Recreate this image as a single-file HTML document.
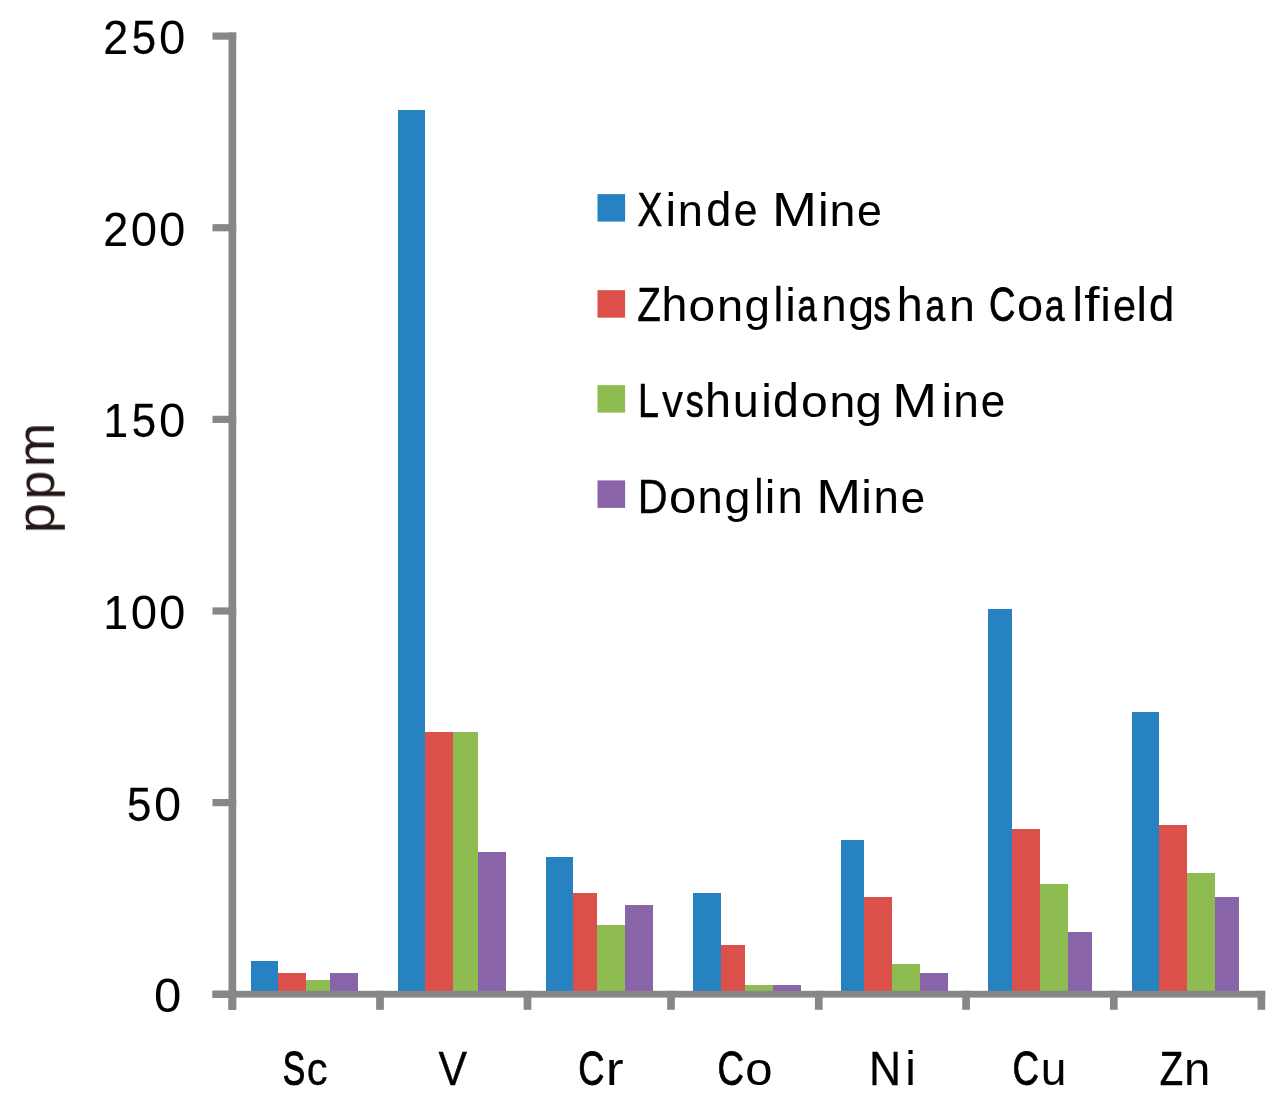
<!DOCTYPE html>
<html><head><meta charset="utf-8"><style>
html,body{margin:0;padding:0;background:#fff;}
svg{display:block;}
text{font-family:"Liberation Sans",sans-serif;will-change:transform;}
</style></head><body>
<svg width="1283" height="1109" viewBox="0 0 1283 1109">
<rect x="0" y="0" width="1283" height="1109" fill="#fff"/>
<rect x="250.6" y="960.6" width="27.7" height="33.4" fill="#2682c0" shape-rendering="crispEdges"/>
<rect x="278.3" y="972.5" width="27.6" height="21.5" fill="#dc504c" shape-rendering="crispEdges"/>
<rect x="305.9" y="980.2" width="24.1" height="13.8" fill="#8ebc50" shape-rendering="crispEdges"/>
<rect x="330" y="972.5" width="27.8" height="21.5" fill="#8a64a8" shape-rendering="crispEdges"/>
<rect x="398.1" y="110.2" width="27.3" height="883.8" fill="#2682c0" shape-rendering="crispEdges"/>
<rect x="425.4" y="732.4" width="27.9" height="261.6" fill="#dc504c" shape-rendering="crispEdges"/>
<rect x="453.3" y="732.4" width="24.6" height="261.6" fill="#8ebc50" shape-rendering="crispEdges"/>
<rect x="477.9" y="852.3" width="27.7" height="141.7" fill="#8a64a8" shape-rendering="crispEdges"/>
<rect x="545.6" y="856.6" width="27.4" height="137.4" fill="#2682c0" shape-rendering="crispEdges"/>
<rect x="573" y="892.7" width="23.8" height="101.3" fill="#dc504c" shape-rendering="crispEdges"/>
<rect x="596.8" y="924.9" width="28.5" height="69.1" fill="#8ebc50" shape-rendering="crispEdges"/>
<rect x="625.3" y="904.5" width="27.5" height="89.5" fill="#8a64a8" shape-rendering="crispEdges"/>
<rect x="693.1" y="892.5" width="27.9" height="101.5" fill="#2682c0" shape-rendering="crispEdges"/>
<rect x="721" y="944.8" width="23.7" height="49.2" fill="#dc504c" shape-rendering="crispEdges"/>
<rect x="744.7" y="984.7" width="28.3" height="9.3" fill="#8ebc50" shape-rendering="crispEdges"/>
<rect x="773" y="984.5" width="27.5" height="9.5" fill="#8a64a8" shape-rendering="crispEdges"/>
<rect x="840.8" y="840.4" width="23.6" height="153.6" fill="#2682c0" shape-rendering="crispEdges"/>
<rect x="864.4" y="896.7" width="27.8" height="97.3" fill="#dc504c" shape-rendering="crispEdges"/>
<rect x="892.2" y="964.3" width="27.9" height="29.7" fill="#8ebc50" shape-rendering="crispEdges"/>
<rect x="920.1" y="972.6" width="27.9" height="21.4" fill="#8a64a8" shape-rendering="crispEdges"/>
<rect x="988.1" y="608.6" width="23.7" height="385.4" fill="#2682c0" shape-rendering="crispEdges"/>
<rect x="1011.8" y="828.7" width="28.3" height="165.3" fill="#dc504c" shape-rendering="crispEdges"/>
<rect x="1040.1" y="884.2" width="27.8" height="109.8" fill="#8ebc50" shape-rendering="crispEdges"/>
<rect x="1067.9" y="932.3" width="23.7" height="61.7" fill="#8a64a8" shape-rendering="crispEdges"/>
<rect x="1132" y="712.2" width="27.4" height="281.8" fill="#2682c0" shape-rendering="crispEdges"/>
<rect x="1159.4" y="824.6" width="27.9" height="169.4" fill="#dc504c" shape-rendering="crispEdges"/>
<rect x="1187.3" y="872.5" width="28.1" height="121.5" fill="#8ebc50" shape-rendering="crispEdges"/>
<rect x="1215.4" y="896.9" width="23.8" height="97.1" fill="#8a64a8" shape-rendering="crispEdges"/>
<rect x="228.5" y="32.5" width="7.7" height="977.3" fill="#878787"/>
<rect x="212.5" y="32.5" width="23.7" height="7.2" fill="#878787"/>
<rect x="212.5" y="224.13" width="23.7" height="7.2" fill="#878787"/>
<rect x="212.5" y="415.76" width="23.7" height="7.2" fill="#878787"/>
<rect x="212.5" y="607.39" width="23.7" height="7.2" fill="#878787"/>
<rect x="212.5" y="799.02" width="23.7" height="7.2" fill="#878787"/>
<rect x="212.5" y="990.65" width="23.7" height="7.2" fill="#878787"/>
<rect x="212.5" y="990.8" width="1052.7" height="6.8" fill="#878787"/>
<rect x="228.5" y="990.8" width="7.7" height="19" fill="#878787"/>
<rect x="376.15" y="990.8" width="7.7" height="19" fill="#878787"/>
<rect x="523.65" y="990.8" width="7.7" height="19" fill="#878787"/>
<rect x="667.15" y="990.8" width="7.7" height="19" fill="#878787"/>
<rect x="814.95" y="990.8" width="7.7" height="19" fill="#878787"/>
<rect x="962.25" y="990.8" width="7.7" height="19" fill="#878787"/>
<rect x="1109.95" y="990.8" width="7.7" height="19" fill="#878787"/>
<rect x="1257.5" y="990.8" width="7.7" height="19" fill="#878787"/>
<rect x="597.5" y="194.1" width="27.6" height="27.5" fill="#2682c0"/>
<rect x="597.5" y="290.2" width="27.6" height="27.5" fill="#dc504c"/>
<rect x="597.5" y="385.1" width="27.6" height="27.5" fill="#8ebc50"/>
<rect x="597.5" y="480.4" width="27.6" height="27.5" fill="#8a64a8"/>
<text transform="matrix(0.7809 0 0 1 637.6 226)" font-size="47.5" stroke="#000" stroke-width="0.67" vector-effect="non-scaling-stroke">X</text>
<text transform="matrix(1.0299 0 0 1 665.5 226)" font-size="46.4">i</text>
<text transform="matrix(0.9973 0 0 1 677.7 226)" font-size="45.3">n</text>
<text transform="matrix(0.9309 0 0 1 706.23 226)" font-size="48" stroke="#000" stroke-width="0.21" vector-effect="non-scaling-stroke">d</text>
<text transform="matrix(0.9427 0 0 1 733.67 226)" font-size="45.3" stroke="#000" stroke-width="0.16" vector-effect="non-scaling-stroke">e</text>
<text transform="matrix(1.1361 0 0 1 772.07 226)" font-size="47.5">M</text>
<text transform="matrix(1.0299 0 0 1 818.05 226)" font-size="46.4">i</text>
<text transform="matrix(1.0289 0 0 1 829.4 226)" font-size="45.3">n</text>
<text transform="matrix(0.9861 0 0 1 857.02 226)" font-size="45.3">e</text>
<text transform="matrix(0.8120 0 0 1 637.16 321)" font-size="47.5" stroke="#000" stroke-width="0.57" vector-effect="non-scaling-stroke">Z</text>
<text transform="matrix(0.9682 0 0 1 661.42 321)" font-size="48" stroke="#000" stroke-width="0.09" vector-effect="non-scaling-stroke">h</text>
<text transform="matrix(1.0613 0 0 1 688.48 321)" font-size="45.3">o</text>
<text transform="matrix(1.0393 0 0 1 716.97 321)" font-size="45.3">n</text>
<text transform="matrix(1.0112 0 0 1 744.48 321)" font-size="45.3">g</text>
<text transform="matrix(0.8625 0 0 1 773.74 321)" font-size="48" stroke="#000" stroke-width="0.26" vector-effect="non-scaling-stroke">l</text>
<text transform="matrix(1.0299 0 0 1 785.35 321)" font-size="46.4">i</text>
<text transform="matrix(0.7614 0 0 1 797.48 321)" font-size="45.3" stroke="#000" stroke-width="0.68" vector-effect="non-scaling-stroke">a</text>
<text transform="matrix(1.0081 0 0 1 821.37 321)" font-size="45.3">n</text>
<text transform="matrix(1.0308 0 0 1 848.14 321)" font-size="45.3">g</text>
<text transform="matrix(0.7610 0 0 1 873.58 321)" font-size="45.3" stroke="#000" stroke-width="0.67" vector-effect="non-scaling-stroke">s</text>
<text transform="matrix(0.9740 0 0 1 896.8 321)" font-size="48" stroke="#000" stroke-width="0.08" vector-effect="non-scaling-stroke">h</text>
<text transform="matrix(0.7761 0 0 1 925.43 321)" font-size="45.3" stroke="#000" stroke-width="0.64" vector-effect="non-scaling-stroke">a</text>
<text transform="matrix(1.0289 0 0 1 948.9 321)" font-size="45.3">n</text>
<text transform="matrix(0.7711 0 0 1 989.09 321)" font-size="47.5" stroke="#000" stroke-width="0.70" vector-effect="non-scaling-stroke">C</text>
<text transform="matrix(1.0379 0 0 1 1016.93 321)" font-size="45.3">o</text>
<text transform="matrix(0.7761 0 0 1 1045.03 321)" font-size="45.3" stroke="#000" stroke-width="0.64" vector-effect="non-scaling-stroke">a</text>
<text transform="matrix(1.0193 0 0 1 1072.2 321)" font-size="48">l</text>
<text transform="matrix(1.1472 0 0 1 1084.22 321)" font-size="48">f</text>
<text transform="matrix(1.0299 0 0 1 1100.25 321)" font-size="46.4">i</text>
<text transform="matrix(0.9155 0 0 1 1112.96 321)" font-size="45.3" stroke="#000" stroke-width="0.24" vector-effect="non-scaling-stroke">e</text>
<text transform="matrix(1.0193 0 0 1 1136.2 321)" font-size="48">l</text>
<text transform="matrix(0.9631 0 0 1 1148.71 321)" font-size="48" stroke="#000" stroke-width="0.11" vector-effect="non-scaling-stroke">d</text>
<text transform="matrix(0.7921 0 0 1 638.02 416.8)" font-size="47.5" stroke="#000" stroke-width="0.61" vector-effect="non-scaling-stroke">L</text>
<text transform="matrix(0.9312 0 0 1 661.95 416.8)" font-size="45.3" stroke="#000" stroke-width="0.20" vector-effect="non-scaling-stroke">v</text>
<text transform="matrix(0.7964 0 0 1 685.78 416.8)" font-size="45.3" stroke="#000" stroke-width="0.57" vector-effect="non-scaling-stroke">s</text>
<text transform="matrix(0.9740 0 0 1 705.1 416.8)" font-size="48" stroke="#000" stroke-width="0.08" vector-effect="non-scaling-stroke">h</text>
<text transform="matrix(1.0341 0 0 1 732.76 416.8)" font-size="45.3">u</text>
<text transform="matrix(1.0299 0 0 1 761.15 416.8)" font-size="46.4">i</text>
<text transform="matrix(0.9685 0 0 1 773.09 416.8)" font-size="48" stroke="#000" stroke-width="0.09" vector-effect="non-scaling-stroke">d</text>
<text transform="matrix(1.0613 0 0 1 800.88 416.8)" font-size="45.3">o</text>
<text transform="matrix(1.0237 0 0 1 829.52 416.8)" font-size="45.3">n</text>
<text transform="matrix(1.0505 0 0 1 855.6 416.8)" font-size="45.3">g</text>
<text transform="matrix(1.1330 0 0 1 892.19 416.8)" font-size="47.5">M</text>
<text transform="matrix(1.0299 0 0 1 941.55 416.8)" font-size="46.4">i</text>
<text transform="matrix(1.0185 0 0 1 953.34 416.8)" font-size="45.3">n</text>
<text transform="matrix(0.9698 0 0 1 980.78 416.8)" font-size="45.3" stroke="#000" stroke-width="0.09" vector-effect="non-scaling-stroke">e</text>
<text transform="matrix(0.8711 0 0 1 637.8 512.7)" font-size="47.5" stroke="#000" stroke-width="0.39" vector-effect="non-scaling-stroke">D</text>
<text transform="matrix(1.0847 0 0 1 668.94 512.7)" font-size="45.3">o</text>
<text transform="matrix(1.0029 0 0 1 697.58 512.7)" font-size="45.3">n</text>
<text transform="matrix(1.0308 0 0 1 724.44 512.7)" font-size="45.3">g</text>
<text transform="matrix(0.8194 0 0 1 754.42 512.7)" font-size="48" stroke="#000" stroke-width="0.34" vector-effect="non-scaling-stroke">l</text>
<text transform="matrix(1.0299 0 0 1 764.85 512.7)" font-size="46.4">i</text>
<text transform="matrix(1.0029 0 0 1 777.48 512.7)" font-size="45.3">n</text>
<text transform="matrix(1.1330 0 0 1 816.19 512.7)" font-size="47.5">M</text>
<text transform="matrix(1.0299 0 0 1 861.35 512.7)" font-size="46.4">i</text>
<text transform="matrix(1.0081 0 0 1 873.57 512.7)" font-size="45.3">n</text>
<text transform="matrix(0.9644 0 0 1 900.69 512.7)" font-size="45.3" stroke="#000" stroke-width="0.10" vector-effect="non-scaling-stroke">e</text>
<text transform="matrix(0.6929 0 0 1 282.65 1085)" font-size="48.5" stroke="#000" stroke-width="0.95" vector-effect="non-scaling-stroke">S</text>
<text transform="matrix(0.9051 0 0 1 306.86 1085)" font-size="46.2" stroke="#000" stroke-width="0.27" vector-effect="non-scaling-stroke">c</text>
<text transform="matrix(0.8810 0 0 1 438.4 1085)" font-size="48.5" stroke="#000" stroke-width="0.37" vector-effect="non-scaling-stroke">V</text>
<text transform="matrix(0.7493 0 0 1 578.35 1085)" font-size="48.5" stroke="#000" stroke-width="0.79" vector-effect="non-scaling-stroke">C</text>
<text transform="matrix(1.1602 0 0 1 605.64 1085)" font-size="46.2">r</text>
<text transform="matrix(0.7565 0 0 1 717.52 1085)" font-size="48.5" stroke="#000" stroke-width="0.76" vector-effect="non-scaling-stroke">C</text>
<text transform="matrix(1.0635 0 0 1 745.34 1085)" font-size="46.2">o</text>
<text transform="matrix(0.9170 0 0 1 868.98 1085)" font-size="48.5" stroke="#000" stroke-width="0.26" vector-effect="non-scaling-stroke">N</text>
<text transform="matrix(1.0018 0 0 1 905.3 1085)" font-size="47.7">i</text>
<text transform="matrix(0.7565 0 0 1 1012.52 1085)" font-size="48.5" stroke="#000" stroke-width="0.76" vector-effect="non-scaling-stroke">C</text>
<text transform="matrix(0.9985 0 0 1 1040.71 1085)" font-size="46.2">u</text>
<text transform="matrix(0.7883 0 0 1 1159.71 1085)" font-size="48.5" stroke="#000" stroke-width="0.65" vector-effect="non-scaling-stroke">Z</text>
<text transform="matrix(1.0242 0 0 1 1183.96 1085)" font-size="46.2">n</text>
<text transform="matrix(0.9329 0 0 1 103.25 54)" font-size="48" stroke="#000" stroke-width="0.20" vector-effect="non-scaling-stroke">2</text>
<text transform="matrix(0.9110 0 0 1 131.68 54)" font-size="48" stroke="#000" stroke-width="0.27" vector-effect="non-scaling-stroke">5</text>
<text transform="matrix(0.9877 0 0 1 158.97 54)" font-size="48">0</text>
<text transform="matrix(0.9329 0 0 1 103.25 245.63)" font-size="48" stroke="#000" stroke-width="0.20" vector-effect="non-scaling-stroke">2</text>
<text transform="matrix(0.9877 0 0 1 130.67 245.63)" font-size="48">0</text>
<text transform="matrix(0.9877 0 0 1 158.97 245.63)" font-size="48">0</text>
<text transform="matrix(0.9213 0 0 1 103.45 437.25)" font-size="48" stroke="#000" stroke-width="0.23" vector-effect="non-scaling-stroke">1</text>
<text transform="matrix(0.9110 0 0 1 131.68 437.25)" font-size="48" stroke="#000" stroke-width="0.27" vector-effect="non-scaling-stroke">5</text>
<text transform="matrix(0.9877 0 0 1 158.97 437.25)" font-size="48">0</text>
<text transform="matrix(0.9213 0 0 1 103.45 628.88)" font-size="48" stroke="#000" stroke-width="0.23" vector-effect="non-scaling-stroke">1</text>
<text transform="matrix(0.9877 0 0 1 130.67 628.88)" font-size="48">0</text>
<text transform="matrix(0.9877 0 0 1 158.97 628.88)" font-size="48">0</text>
<text transform="matrix(0.9110 0 0 1 126.98 820.5)" font-size="48" stroke="#000" stroke-width="0.27" vector-effect="non-scaling-stroke">5</text>
<text transform="matrix(1.0198 0 0 1 153.99 820.5)" font-size="48">0</text>
<text transform="matrix(1.0242 0 0 1 153.98 1012.15)" font-size="48">0</text>
<text transform="matrix(0 -1.0332 1 0 53.9 533.18)" font-size="52.3" fill="#231815">p</text>
<text transform="matrix(0 -0.9907 1 0 53.9 499.54)" font-size="52.3" fill="#231815">p</text>
<text transform="matrix(0 -1.0025 1 0 53.9 467.24)" font-size="53.1" fill="#231815">m</text>
</svg>
</body></html>
